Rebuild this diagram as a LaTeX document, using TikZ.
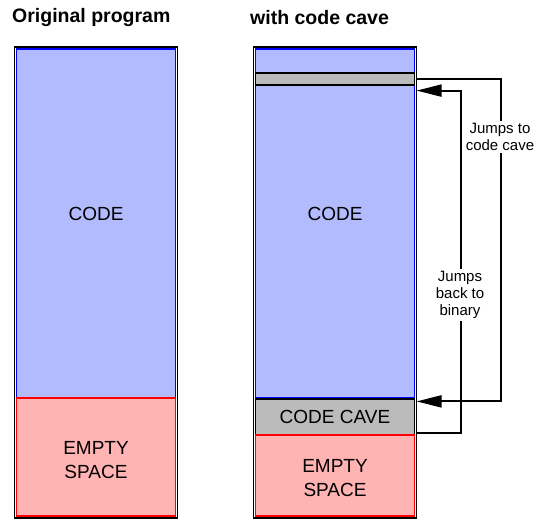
\documentclass[tikz,border=0pt]{standalone}
\usepackage{fontspec}
\setmainfont{Liberation Sans}
\usetikzlibrary{arrows.meta}
\definecolor{codefill}{RGB}{179,187,255}
\definecolor{emptyfill}{RGB}{255,179,179}
\definecolor{cavefill}{RGB}{187,187,187}
\tikzset{
  seg/.style={rectangle, minimum width=159pt, inner sep=0pt, line width=1.2pt},
  outline/.style={draw=black, line width=1.8pt},
  txt/.style={inner sep=0pt, align=center, font=\fontsize{19}{24}\selectfont},
  title/.style={inner sep=0pt, anchor=west, font=\fontsize{19.5}{23}\selectfont\bfseries},
  jlabel/.style={fill=white, inner sep=2pt, align=center, font=\fontsize{15}{17}\selectfont},
  jump/.style={line width=2pt, -{Triangle[length=25pt,width=12pt]}}
}
\begin{document}
\begin{tikzpicture}[x=1pt,y=-1pt]
  \useasboundingbox (0,0) rectangle (542,519);
  \node[title] (orig) at (12,18) {Original program};
  \node[title] (withcave) at (250,18) {with code cave};

  \node[seg, fill=codefill, draw=blue, minimum height=349pt] (code1) at (96,223.5) {};
  \node[seg, fill=emptyfill, draw=red, minimum height=118pt] (empty1) at (96,457) {};
  \draw[outline] ([shift={(-1.4,-1.4)}]code1.north west) rectangle ([shift={(1.4,1.4)}]empty1.south east);
  \node[txt] (codetxt1) at (96,214) {CODE};
  \node[txt] (emptytxt1) at (96,460) {EMPTY\\SPACE};

  \node[seg, fill=codefill, draw=blue, minimum height=349pt] (code2) at (335,223.5) {};
  \node[seg, fill=cavefill, draw=black, minimum height=12pt] (jmpbar) at (335,79) {};
  \node[seg, fill=cavefill, draw=black, minimum height=36pt] (cave) at (335,417) {};
  \node[seg, fill=emptyfill, draw=red, minimum height=81pt] (empty2) at (335,475.5) {};
  \draw[outline] ([shift={(-1.4,-1.4)}]code2.north west) rectangle ([shift={(1.4,1.4)}]empty2.south east);
  \node[txt] (codetxt2) at (335,214) {CODE};
  \node[txt] (cavetxt) at (cave) {CODE CAVE};
  \node[txt] (emptytxt2) at (335,478) {EMPTY\\SPACE};

  \coordinate (tocave) at ([shift={(1.5,3)}]cave.north east);
  \coordinate (tobin) at ([shift={(1.5,5)}]jmpbar.south east);
  \draw[jump] ([xshift=1.5pt]jmpbar.east) -- ++(84,0) |- (tocave);
  \draw[jump] ([shift={(1.5,-3)}]cave.south east) -- ++(44,0) |- (tobin);
  \node[jlabel] (lblto) at (500,137) {Jumps to\\code cave};
  \node[jlabel] (lblback) at (460,295) {Jumps\\back to\\binary};
\end{tikzpicture}
\end{document}
